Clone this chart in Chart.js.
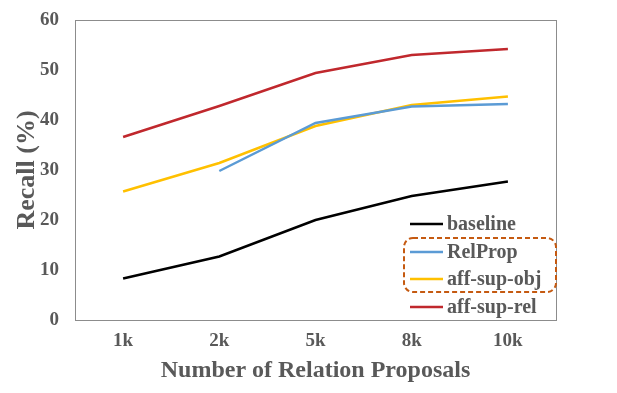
<!DOCTYPE html>
<html>
<head>
<meta charset="utf-8">
<script src="https://cdn.jsdelivr.net/npm/chart.js@4"></script>
<style>
  html, body { margin: 0; padding: 0; background: #fff; }
  #wrap { width: 617px; height: 393px; }
</style>
</head>
<body>
<div id="wrap"><canvas id="recallChart"></canvas></div>
<script>
(function () {
    "use strict";
    // data
    const proposals = ['1k', '2k', '5k', '8k', '10k'];
    const baseline = [8.3, 12.7, 20.0, 24.8, 27.7];
    const relProp = [null, 29.8, 39.4, 42.7, 43.2];
    const affSupObj = [25.7, 31.4, 38.8, 43.0, 44.7];
    const affSupRel = [36.6, 42.8, 49.4, 53.0, 54.2];
    const yTicks = [0, 10, 20, 30, 40, 50, 60];

    const grey = '#595959';
    const serif = "'Liberation Serif', 'Times New Roman', serif";

    function series(label, values, color) {
        return {
            label: label,
            data: values,
            borderColor: color,
            backgroundColor: color,
            borderWidth: 2.5,
            pointRadius: 0,
            tension: 0,
            spanGaps: false
        };
    }

    // legend drawn inside the plot, plus the dashed box round two entries
    const insideLegend = {
        id: 'insideLegend',
        afterDraw: function (chart) {
            const ctx = chart.ctx;
            const area = chart.chartArea;
            ctx.save();
            // plot border
            ctx.strokeStyle = '#8c8c8c';
            ctx.lineWidth = 1;
            ctx.strokeRect(area.left + 0.5, area.top + 0.5, area.right - area.left, area.bottom - area.top);

            const rowsY = [224, 252, 279, 307];
            ctx.font = 'bold 20px ' + serif;
            ctx.textBaseline = 'middle';
            chart.data.datasets.forEach(function (ds, i) {
                ctx.strokeStyle = ds.borderColor;
                ctx.lineWidth = 2.5;
                ctx.beginPath();
                ctx.moveTo(410, rowsY[i]);
                ctx.lineTo(443, rowsY[i]);
                ctx.stroke();
                ctx.fillStyle = grey;
                ctx.fillText(ds.label, 447, rowsY[i] + 1);
            });

            // dashed rounded box
            ctx.strokeStyle = '#c55a11';
            ctx.lineWidth = 2;
            ctx.setLineDash([5, 3]);
            ctx.beginPath();
            ctx.roundRect(404, 238, 152, 54, 9);
            ctx.stroke();
            ctx.restore();
        }
    };

    const config = {
        type: 'line',
        data: {
            labels: proposals,
            datasets: [
                series('baseline', baseline, '#000000'),
                series('RelProp', relProp, '#5b9bd5'),
                series('aff-sup-obj', affSupObj, '#ffc000'),
                series('aff-sup-rel', affSupRel, '#c0282d')
            ]
        },
        options: {
            responsive: true,
            maintainAspectRatio: false,
            animation: false,
            layout: { padding: { left: 0, right: 61, top: 20, bottom: 0 } },
            plugins: {
                legend: { display: false },
                tooltip: { enabled: false }
            },
            scales: {
                x: {
                    offset: true,
                    grid: { display: false, drawTicks: false },
                    border: { display: false },
                    ticks: {
                        padding: 10,
                        color: grey,
                        font: { family: serif, size: 19, weight: 'bold' }
                    },
                    title: {
                        display: true,
                        text: 'Number of Relation Proposals',
                        color: grey,
                        font: { family: serif, size: 24, weight: 'bold' },
                        padding: { top: 4, bottom: 8 }
                    },
                    afterFit: function (scale) { scale.height = 73; }
                },
                y: {
                    min: 0,
                    max: 60,
                    afterBuildTicks: function (scale) {
                        scale.ticks = yTicks.map(function (v) { return { value: v }; });
                    },
                    grid: { display: false, drawTicks: false },
                    border: { display: false },
                    ticks: {
                        padding: 16,
                        color: grey,
                        font: { family: serif, size: 19, weight: 'bold' }
                    },
                    title: {
                        display: true,
                        text: 'Recall (%)',
                        color: grey,
                        font: { family: serif, size: 26, weight: 'bold' },
                        padding: { top: 12, bottom: 0 }
                    },
                    afterFit: function (scale) {
                        scale.width = 75;
                        scale.paddingTop = 0;
                        scale.paddingBottom = 0;
                    }
                }
            }
        },
        plugins: [insideLegend]
    };

    new Chart(document.getElementById('recallChart'), config);
})();
</script>
</body>
</html>
